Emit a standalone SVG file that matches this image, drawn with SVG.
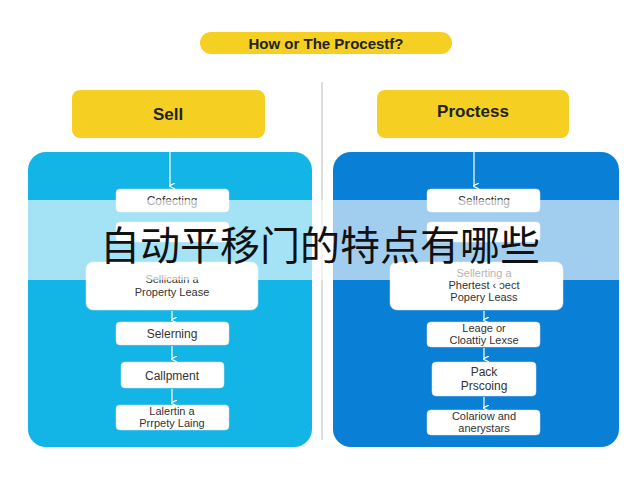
<svg xmlns="http://www.w3.org/2000/svg" width="640" height="480" viewBox="0 0 640 480">
<defs>
<marker id="ah" markerWidth="6" markerHeight="6" refX="3" refY="5" orient="auto" markerUnits="userSpaceOnUse"><path d="M0,0 L3,6 L6,0" fill="none" stroke="#fff" stroke-width="1.2"/></marker>
<style>
.t{font-family:"Liberation Sans",Arial,sans-serif;fill:#333;text-anchor:middle;font-size:12px}
.s{font-size:11px}
.h{font-family:"Liberation Sans",Arial,sans-serif;font-weight:bold;fill:#222;text-anchor:middle}
.b{fill:#fff;stroke:#dde;stroke-width:0.5}
.c{stroke:#fff;stroke-width:1.2;fill:none;marker-end:url(#ah)}
</style>
</defs>
<rect width="640" height="480" fill="#fff"/>
<line x1="322" y1="82" x2="322" y2="440" stroke="#bbb" stroke-width="1"/>
<g id="title"><rect x="200" y="32" width="252" height="22" rx="11" fill="#f5d022"/><text class="h" x="326" y="49" font-size="15">How or The Procestf?</text></g>
<g id="sell"><rect x="72" y="90" width="193" height="48" rx="8" fill="#f5d022"/><text class="h" x="168" y="120" font-size="17">Sell</text></g>
<g id="process"><rect x="377" y="90" width="192" height="48" rx="8" fill="#f5d022"/><text class="h" x="473" y="117" font-size="17">Proctess</text></g>
<g id="leftPanel"><rect x="28" y="152" width="284" height="295" rx="18" fill="#12b5e6"/></g>
<g id="rightPanel"><rect x="333" y="152" width="286" height="295" rx="18" fill="#0a7fd6"/></g>
<g id="connectors">
<line class="c" x1="170" y1="140" x2="170" y2="186"/>
<line class="c" x1="474" y1="140" x2="474" y2="186"/>
<line class="c" x1="172" y1="311" x2="172" y2="320"/>
<line class="c" x1="172" y1="346" x2="172" y2="359"/>
<line class="c" x1="172" y1="389" x2="172" y2="403"/>
<line class="c" x1="484" y1="311" x2="484" y2="320"/>
<line class="c" x1="484" y1="348" x2="484" y2="359"/>
<line class="c" x1="484" y1="397" x2="484" y2="408"/>
</g>
<g id="l1"><rect class="b" x="116" y="189" width="113" height="23" rx="4"/><text class="t" x="172" y="205" fill="#666">Cofecting</text></g>
<g id="l1b"><rect class="b" x="116" y="222" width="113" height="20" rx="4"/></g>
<g id="l2"><rect class="b" x="86" y="262" width="172" height="48" rx="7"/><text class="t s" x="172" y="283">Sellicatin a</text><text class="t s" x="172" y="296">Property Lease</text></g>
<g id="l3"><rect class="b" x="116" y="322" width="113" height="23" rx="4"/><text class="t" x="172" y="338">Selerning</text></g>
<g id="l4"><rect class="b" x="121" y="362" width="103" height="26" rx="4"/><text class="t" x="172" y="380">Callpment</text></g>
<g id="l5"><rect class="b" x="116" y="405" width="113" height="25" rx="4"/><text class="t s" x="172" y="415">Lalertin a</text><text class="t s" x="172" y="427">Prrpety Laing</text></g>
<g id="r1"><rect class="b" x="427" y="189" width="113" height="23" rx="4"/><text class="t" x="484" y="205" fill="#666">Sellecting</text></g>
<g id="r1b"><rect class="b" x="427" y="222" width="113" height="20" rx="4"/></g>
<g id="r2"><rect class="b" x="390" y="262" width="173" height="48" rx="7"/><text class="t s" x="484" y="277" fill="#777">Sellerting a</text><text class="t s" x="484" y="289">Phertest ‹ ɔect</text><text class="t s" x="484" y="301">Popery Leass</text></g>
<g id="r3"><rect class="b" x="427" y="322" width="113" height="25" rx="4"/><text class="t s" x="484" y="332">Leage or</text><text class="t s" x="484" y="344">Cloattiy Lexse</text></g>
<g id="r4"><rect class="b" x="432" y="362" width="104" height="34" rx="4"/><text class="t" x="484" y="376">Pack</text><text class="t" x="484" y="390">Prscoing</text></g>
<g id="r5"><rect class="b" x="427" y="410" width="113" height="25" rx="4"/><text class="t s" x="484" y="420">Colariow and</text><text class="t s" x="484" y="432">anerystars</text></g>
<rect x="0" y="200" width="640" height="80" fill="#fff" opacity="0.62"/>
<text x="320" y="260" font-family="'Noto Sans CJK SC',sans-serif" font-size="40" fill="#111" text-anchor="middle">自动平移门的特点有哪些</text>
</svg>
